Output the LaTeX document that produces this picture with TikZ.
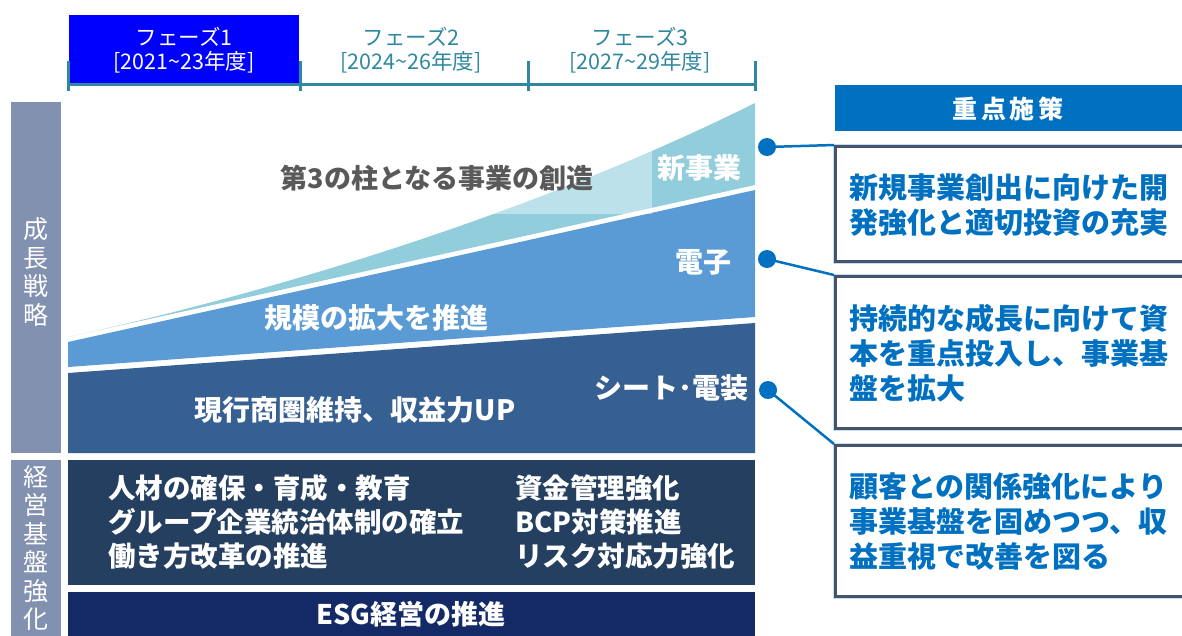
\documentclass[tikz,border=0pt]{standalone}
\usepackage{fontspec}
\setmainfont{Noto Sans CJK JP}
\definecolor{teal1}{HTML}{2F87A0}
\definecolor{phaseblue}{HTML}{0000FF}
\definecolor{sidebar}{HTML}{8391B1}
\definecolor{lightb}{HTML}{92CDDC}
\definecolor{midb}{HTML}{5B9BD5}
\definecolor{darkb}{HTML}{376092}
\definecolor{navy}{HTML}{243F60}
\definecolor{esg}{HTML}{132A66}
\definecolor{accent}{HTML}{0070C0}
\definecolor{boxline}{HTML}{44546A}
\definecolor{boxglow}{HTML}{C5DDF0}
\definecolor{graytxt}{HTML}{595959}
\tikzset{
  tl/.style={draw=teal1, line width=3pt},
  bandtxt/.style={text=white, font=\fontsize{28}{34}\selectfont\bfseries, inner sep=0pt},
  basetxt/.style={text=white, font=\fontsize{27.5}{32}\selectfont\bfseries, anchor=west, inner sep=0pt},
  phasetxt/.style={text=teal1, font=\fontsize{21.5}{24}\selectfont, align=center, inner sep=0pt},
  sidetxt/.style={text=white, font=\fontsize{25}{28.5}\selectfont, align=center, inner sep=0pt},
  pbox/.style={draw=boxline, line width=2.5pt, fill=white, anchor=north west, inner sep=0pt,
    minimum width=370pt, preaction={draw=boxglow, line width=5.5pt}},
  ptxt/.style={text=accent, font=\fontsize{29}{35}\selectfont\bfseries, align=left, anchor=west, inner sep=0pt},
  dot/.style={circle, fill=accent, minimum size=18pt, inner sep=0pt},
  link/.style={draw=accent, line width=2.5pt},
  plainrect/.style={anchor=north west, inner sep=0pt, outer sep=0pt}
}
\begin{document}
\begin{tikzpicture}[x=1pt,y=-1pt]
\useasboundingbox (0,0) rectangle (1182,635);
\clip (0,0) rectangle (1182,635);

% phases
\node[plainrect, fill=phaseblue, minimum width=230pt, minimum height=68pt] (p1) at (69,15) {};
\draw[tl] (68,84) -- (755,84);
\draw[tl] (68,61) -- (68,91);
\draw[tl] (300,61) -- (300,91);
\draw[tl] (528,61) -- (528,91);
\draw[tl] (755,61) -- (755,91);
\node[phasetxt, text=white] (p1t) at (184,50) {フェーズ1\\{}[2021\textasciitilde23年度]};
\node[phasetxt] (p2t) at (411,50) {フェーズ2\\{}[2024\textasciitilde26年度]};
\node[phasetxt] (p3t) at (640,50) {フェーズ3\\{}[2027\textasciitilde29年度]};

% side bars
\node[plainrect, fill=sidebar, minimum width=50pt, minimum height=351pt] (s1) at (11,102) {};
\node[plainrect, fill=sidebar, minimum width=50pt, minimum height=180pt] (s2) at (11,460) {};
\node[sidetxt] (s1t) at (36,272) {成\\長\\戦\\略};
\node[sidetxt] (s2t) at (36,548) {経\\営\\基\\盤\\強\\化};

% growth bands
\fill[darkb] (68,373) -- (755,323) -- (755,453) -- (68,453) -- cycle;
\fill[midb] (68,342) -- (755,190) -- (755,317) -- (68,367) -- cycle;
\fill[lightb] (68,337) .. controls (300,286) and (550,205) .. (755,103) -- (755,185) -- cycle;

\node[plainrect, fill=white, fill opacity=0.4, minimum width=390pt, minimum height=66pt] (veil) at (262,148) {};
\node[text=graytxt, font=\fontsize{27}{32}\selectfont\bfseries, inner sep=0pt] (c3) at (437,178) {第3の柱となる事業の創造};
\node[bandtxt] (nb) at (699,168) {新事業};
\node[bandtxt] (el) at (703,262) {電子};
\node[bandtxt] (sc) at (376,318) {規模の拡大を推進};
\node[bandtxt] (se) at (671,388) {シート･電装};
\node[bandtxt] (cu) at (355,410) {現行商圏維持、収益力UP};

% base
\node[plainrect, fill=navy, minimum width=687pt, minimum height=125pt] (base) at (68,460) {};
\node[plainrect, fill=esg, minimum width=687pt, minimum height=50pt] (esgb) at (68,592) {};
\node[basetxt] (l1) at (108,488) {人材の確保・育成・教育};
\node[basetxt] (l2) at (108,522) {グループ企業統治体制の確立};
\node[basetxt] (l3) at (108,556) {働き方改革の推進};
\node[basetxt] (r1) at (515,488) {資金管理強化};
\node[basetxt] (r2) at (515,522) {BCP対策推進};
\node[basetxt] (r3) at (515,556) {リスク対応力強化};
\node[bandtxt, font=\fontsize{27}{32}\selectfont\bfseries] (esgt) at (411,614) {ESG経営の推進};

% right column
\node[plainrect, fill=accent, minimum width=360pt, minimum height=46pt] (hdr) at (835,85) {};
\node[text=white, font=\fontsize{25}{30}\selectfont\bfseries\addfontfeature{LetterSpace=15}, inner sep=0pt] (hdrt) at (1008,109) {重点施策};

\node[pbox, minimum height=115pt] (b1) at (834,145) {};
\node[pbox, minimum height=152pt] (b2) at (834,275) {};
\node[pbox, minimum height=151pt] (b3) at (834,444) {};
\node[ptxt] (b1t) at (849,205.5) {新規事業創出に向けた開\\発強化と適切投資の充実};
\node[ptxt] (b2t) at (849,353) {持続的な成長に向けて資\\本を重点投入し、事業基\\盤を拡大};
\node[ptxt] (b3t) at (849,522) {顧客との関係強化により\\事業基盤を固めつつ、収\\益重視で改善を図る};

\node[dot] (d1) at (767,147) {};
\node[dot] (d2) at (767,259) {};
\node[dot] (d3) at (768,390) {};
\draw[link] (d1.center) -- (b1.north west);
\draw[link] (d2.center) -- (b2.north west);
\draw[link] (d3.center) -- (b3.north west);
\end{tikzpicture}
\end{document}
